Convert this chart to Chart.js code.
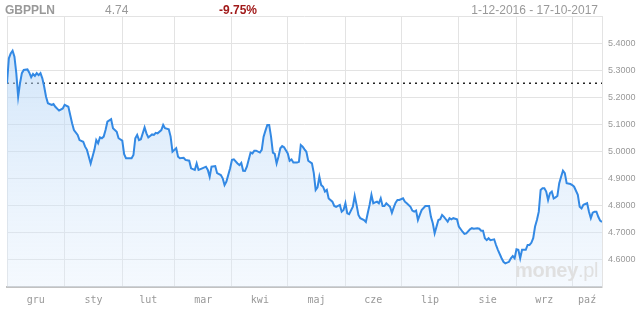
<!DOCTYPE html>
<html>
<head>
<meta charset="utf-8">
<script src="https://cdn.jsdelivr.net/npm/chart.js@4/dist/chart.umd.min.js"></script>
<style>
  body { margin: 0; background: #fff; }
  #wrap { position: relative; width: 644px; height: 309px; font-family: "Liberation Sans", Arial, sans-serif; }
  .t { position: absolute; top: 3px; font-size: 12px; line-height: 14px; color: #999; white-space: nowrap; }
  #logo { position: absolute; left: 515px; top: 259px; font-size: 20px; color: #e0e0e0; pointer-events: none; letter-spacing: -0.3px; }
</style>
</head>
<body>
<div id="wrap">
  <canvas id="wykres" width="644" height="309"></canvas>
  <div class="t" style="left:5px;font-weight:bold;">GBPPLN</div>
  <div class="t" style="left:105px;">4.74</div>
  <div class="t" style="left:219px;font-weight:bold;color:#a11a1a;">-9.75%</div>
  <div class="t" style="right:46px;">1-12-2016 - 17-10-2017</div>
  <div id="logo"><b>money</b>.pl</div>
</div>
<script>
// dni od 1-12-2016
const dni = [0,1,2,3,4,5,6,7,8,9,11,12,13,14,15,16,17,18,19,20,21,22,24,25,26,28,30,31,33,34,35,36,38,39,41,42,43,44,45,47,48,49,50,51,52,53,54,56,57,59,60,
  62,63,64,65,67,68,69,70,71,72,74,75,76,78,79,80,81,83,84,85,87,88,89,91,92,93,95,96,98,99,101,102,103,105,107,108,109,110,112,113,115,116,117,118,
  120,121,122,124,125,126,127,128,129,131,132,133,134,136,137,138,139,140,141,142,143,144,145,146,147,148,149,151,152,153,154,156,157,158,159,160,161,162,164,165,166,167,168,169,170,171,172,173,175,176,177,179,180,
  181,182,183,184,186,187,188,189,190,192,193,194,195,196,197,198,199,200,201,202,203,204,206,207,208,209,210,211,213,214,215,217,218,219,220,221,222,223,225,227,228,229,230,232,233,234,235,236,237,238,239,240,
  242,243,245,246,247,249,250,251,253,254,255,256,257,258,259,260,262,263,264,266,267,268,270,271,272,273,274,275,276,277,279,280,281,282,283,284,285,286,287,288,289,290,291,292,293,294,295,296,297,298,299,300,
  301,303,304,305,307,308,309,310,312,313,314,315,316,317,318,319,320];
const kurs = [5.252,5.344,5.362,5.372,5.350,5.289,5.202,5.252,5.289,5.301,5.303,5.291,5.274,5.286,5.279,5.289,5.282,5.289,5.270,5.239,5.202,5.178,5.172,5.175,5.165,5.151,5.159,5.172,5.165,5.135,5.104,5.079,5.061,5.042,5.036,5.018,5.006,4.981,4.956,5.006,5.042,5.030,5.052,5.049,5.055,5.079,5.110,5.119,5.086,5.073,5.049,
  5.040,4.990,4.975,4.975,4.975,4.987,5.049,5.061,5.042,5.045,5.089,5.067,5.052,5.063,5.061,5.069,5.067,5.079,5.098,5.086,5.082,5.055,4.999,5.012,4.981,4.975,4.977,4.969,4.966,4.938,4.932,4.956,4.932,4.938,4.944,4.932,4.907,4.944,4.946,4.920,4.913,4.901,4.876,4.889,
  4.938,4.969,4.971,4.956,4.950,4.958,4.929,4.928,4.944,4.996,4.993,5.003,5.003,4.996,5.006,5.055,5.077,5.098,5.098,5.055,4.996,4.991,4.956,4.981,5.012,5.020,5.016,4.993,4.966,4.971,4.959,4.959,4.962,5.024,5.018,5.008,4.999,4.966,4.956,4.920,4.858,4.868,4.907,4.876,4.870,4.852,4.858,4.827,4.815,4.799,4.796,4.803,4.778,
  4.784,4.809,4.772,4.769,4.796,4.836,4.803,4.766,4.754,4.747,4.740,4.772,4.803,4.840,4.809,4.812,4.815,4.809,4.827,4.799,4.799,4.809,4.796,4.774,4.794,4.811,4.821,4.821,4.827,4.815,4.809,4.796,4.782,4.778,4.782,4.747,4.766,4.784,4.799,4.799,4.759,4.735,4.698,4.747,4.750,4.766,4.759,4.750,4.741,4.754,4.750,4.754,
  4.750,4.723,4.704,4.696,4.698,4.713,4.717,4.715,4.717,4.715,4.708,4.708,4.680,4.673,4.680,4.673,4.676,4.655,4.637,4.606,4.593,4.587,4.593,4.606,4.614,4.606,4.639,4.637,4.606,4.637,4.637,4.655,4.655,4.663,4.680,4.723,4.747,4.778,4.858,4.864,4.864,4.852,4.821,4.846,4.852,4.827,4.831,4.836,4.883,4.907,4.929,4.920,
  4.883,4.880,4.876,4.870,4.840,4.796,4.790,4.803,4.809,4.778,4.754,4.774,4.778,4.778,4.759,4.745,4.740];

// początki miesięcy i etykiety
const poczatkiMies = [0,31,62,90,121,151,182,212,243,274,304];
const srodkiMies = [15.5,46.5,76,105.5,136,166.5,197,227.5,258.5,289,312];
const miesiace = ["gru","sty","lut","mar","kwi","maj","cze","lip","sie","wrz","paź"];
const osY = { min: 4.5, max: 5.5, krok: 0.1 };
const koniec = 320;

const ctx = document.getElementById("wykres");

new Chart(ctx, {
    type: "line",
    data: {
        datasets: [{
            data: dni.map((d, i) => ({ x: d, y: kurs[i] })),
            borderColor: "#3389e4",
            borderWidth: 2,
            pointRadius: 0,
            tension: 0,
            fill: "start",
            backgroundColor: (c) => {
                const a = c.chart.chartArea;
                if (!a) return "rgba(200,225,250,0.5)";
                const g = c.chart.ctx.createLinearGradient(0, a.top, 0, a.bottom);
                g.addColorStop(0, "rgba(170,207,245,0.6)");
                g.addColorStop(1, "rgba(225,238,252,0.35)");
                return g;
            }
        }, {
            data: [{ x: 0, y: kurs[0] }, { x: koniec, y: kurs[0] }],
            borderColor: "#222",
            borderWidth: 1.5,
            borderDash: [2, 4],
            pointRadius: 0,
            fill: false
        }]
    },
    options: {
        responsive: false,
        animation: false,
        devicePixelRatio: 1,
        layout: { padding: { top: 16, left: 6, right: 0, bottom: 0 } },
        plugins: { legend: { display: false }, tooltip: { enabled: false } },
        scales: {
            x: {
                type: "linear",
                min: 0,
                max: koniec,
                afterBuildTicks: (s) => {
                    s.ticks = poczatkiMies.concat(srodkiMies).sort((a, b) => a - b).map(v => ({ value: v }));
                },
                afterFit: (s) => { s.height = 22; },
                grid: {
                    color: (c) => (c.tick && poczatkiMies.includes(c.tick.value)) ? "#e3e3e3" : "rgba(0,0,0,0)",
                    drawTicks: false
                },
                border: { color: "#c2c2c2", width: 2 },
                ticks: {
                    autoSkip: false,
                    maxRotation: 0,
                    padding: 7,
                    color: "#999",
                    font: { family: "DejaVu Sans Mono", size: 10 },
                    callback: (v) => {
                        const i = srodkiMies.indexOf(v);
                        return i >= 0 ? miesiace[i] : "";
                    }
                }
            },
            y: {
                position: "right",
                min: osY.min,
                max: osY.max,
                afterFit: (s) => { s.width = 42; },
                grid: { color: "#e3e3e3", drawTicks: false },
                border: { color: "#e3e3e3" },
                ticks: {
                    stepSize: osY.krok,
                    padding: 6,
                    color: "#999",
                    font: { family: "Liberation Sans", size: 9 },
                    callback: (v) => (v < 4.55 || v > 5.45) ? "" : v.toFixed(4)
                }
            }
        }
    }
});
</script>
</body>
</html>
